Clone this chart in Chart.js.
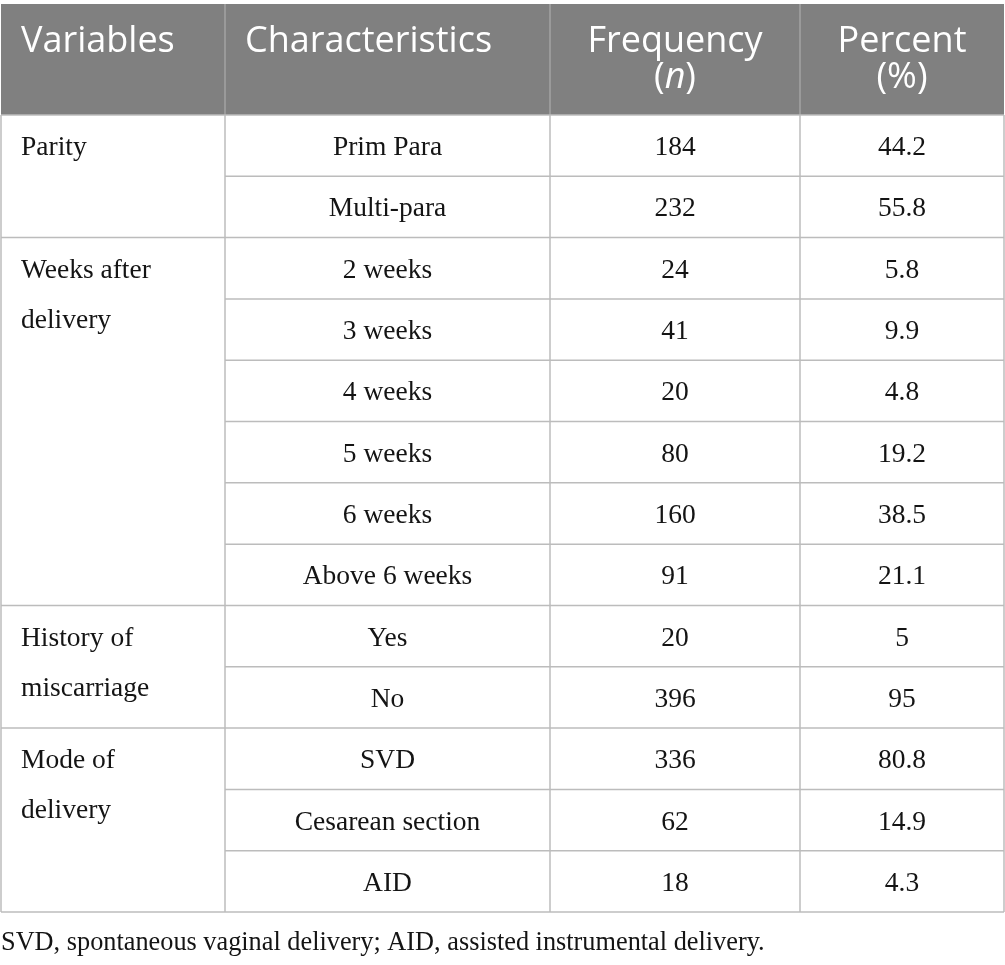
<!DOCTYPE html>
<html><head><meta charset="utf-8">
<script src="https://cdn.jsdelivr.net/npm/chart.js@4.4.1/dist/chart.umd.min.js"></script>
<style>html,body{margin:0;padding:0;background:#fff}#wrap{width:1005px;height:965px;position:relative}</style>
</head><body><div id="wrap"><canvas id="c"></canvas></div>
<script>
// ---- data ----
const headers = [["Variables"], ["Characteristics"], ["Frequency", "(n)"], ["Percent", "(%)"]];
const groupLabels = [["Parity"], ["Weeks after", "delivery"], ["History of", "miscarriage"], ["Mode of", "delivery"]];
const groupSizes = [2, 6, 2, 3];
const characteristics = ["Prim Para", "Multi-para", "2 weeks", "3 weeks", "4 weeks", "5 weeks", "6 weeks", "Above 6 weeks", "Yes", "No", "SVD", "Cesarean section", "AID"];
const frequency = [184, 232, 24, 41, 20, 80, 160, 91, 20, 396, 336, 62, 18];
const percent = ["44.2", "55.8", "5.8", "9.9", "4.8", "19.2", "38.5", "21.1", "5", "95", "80.8", "14.9", "4.3"];
const footnote = "SVD, spontaneous vaginal delivery; AID, assisted instrumental delivery.";

// ---- layout constants ----
const COL = [0, 224, 549, 799, 1003];
const HEAD = 1.81;
const NROWS = characteristics.length;
const BODY_FONT = '27.5px "Liberation Serif", "Times New Roman", serif';
const FOOT_FONT = '26.3px "Liberation Serif", "Times New Roman", serif';
const HEAD_FONT = '36px "Open Sans", "Noto Sans", sans-serif';
const HEAD_FONT_I = 'italic 36px "Open Sans", "Noto Sans", sans-serif';

const cellPoints = [];
characteristics.forEach((c, r) => {
  const vals = [c, String(frequency[r]), String(percent[r])];
  vals.forEach((t, k) => cellPoints.push({x: (COL[k + 1] + COL[k + 2]) / 2, y: r + 0.5, t}));
});

const tablePlugin = {
  id: 'table',
  beforeDatasetsDraw(chart) {
    const {ctx, scales: {x, y}} = chart;
    const X = v => x.getPixelForValue(v), Y = v => y.getPixelForValue(v);
    ctx.save();
    // header background
    ctx.fillStyle = '#808080';
    ctx.fillRect(X(0), Y(-HEAD), X(COL[4]) - X(0), Y(0) - Y(-HEAD));
    ctx.lineWidth = 1.5;
    ctx.strokeStyle = '#a3a3a3';
    for (let i = 1; i < 4; i++) {
      ctx.beginPath(); ctx.moveTo(X(COL[i]), Y(-HEAD)); ctx.lineTo(X(COL[i]), Y(0)); ctx.stroke();
    }
    // body grid
    ctx.strokeStyle = '#bcbcbc';
    for (let i = 0; i < 5; i++) {
      ctx.beginPath(); ctx.moveTo(X(COL[i]), Y(0)); ctx.lineTo(X(COL[i]), Y(NROWS)); ctx.stroke();
    }
    const bounds = new Set([0]);
    let acc = 0; groupSizes.forEach(s => { acc += s; bounds.add(acc); });
    for (let r = 0; r <= NROWS; r++) {
      const x0 = bounds.has(r) ? X(COL[0]) : X(COL[1]);
      ctx.beginPath(); ctx.moveTo(x0, Y(r)); ctx.lineTo(X(COL[4]), Y(r)); ctx.stroke();
    }
    // header text
    ctx.fillStyle = '#ffffff';
    ctx.textBaseline = 'alphabetic';
    const top = Y(-HEAD);
    headers.forEach((lines, c) => {
      lines.forEach((ln, li) => {
        const by = top + 48 + li * 36;
        if (c <= 1) {
          ctx.font = HEAD_FONT; ctx.textAlign = 'left';
          ctx.fillText(ln, X(COL[c]) + 20, by);
        } else {
          const cx = (X(COL[c]) + X(COL[c + 1])) / 2;
          if (ln === "(n)") {
            ctx.font = HEAD_FONT; const wp = ctx.measureText("(").width, wq = ctx.measureText(")").width;
            ctx.font = HEAD_FONT_I; const wn = ctx.measureText("n").width;
            let sx = cx - (wp + wn + wq) / 2;
            ctx.textAlign = 'left';
            ctx.font = HEAD_FONT; ctx.fillText("(", sx, by); sx += wp;
            ctx.font = HEAD_FONT_I; ctx.fillText("n", sx, by); sx += wn;
            ctx.font = HEAD_FONT; ctx.fillText(")", sx, by);
          } else {
            ctx.font = HEAD_FONT; ctx.textAlign = 'center';
            ctx.fillText(ln, cx, by);
          }
        }
      });
    });
    // body text
    ctx.fillStyle = '#141414';
    ctx.font = BODY_FONT;
    ctx.textAlign = 'center';
    cellPoints.forEach(p => ctx.fillText(p.t, X(p.x), Y(p.y) + 9.5));
    // group labels
    ctx.textAlign = 'left';
    let start = 0;
    groupLabels.forEach((lines, g) => {
      lines.forEach((ln, li) => ctx.fillText(ln, X(COL[0]) + 20, Y(start + 0.5) + 9.5 + li * 50));
      start += groupSizes[g];
    });
    // footnote
    ctx.font = FOOT_FONT;
    ctx.fillText(footnote, X(COL[0]), Y(NROWS) + 38);
    ctx.restore();
  }
};

new Chart(document.getElementById('c'), {
  type: 'scatter',
  data: {datasets: [{data: cellPoints, pointRadius: 0, showLine: false}]},
  options: {
    responsive: true, maintainAspectRatio: false, animation: false,
    layout: {padding: {left: 1, right: 1, top: 4, bottom: 53}},
    plugins: {legend: {display: false}, tooltip: {enabled: false}},
    scales: {
      x: {type: 'linear', display: false, min: COL[0], max: COL[4]},
      y: {type: 'linear', display: false, min: -HEAD, max: NROWS, reverse: true}
    }
  },
  plugins: [tablePlugin]
});
</script></body></html>
